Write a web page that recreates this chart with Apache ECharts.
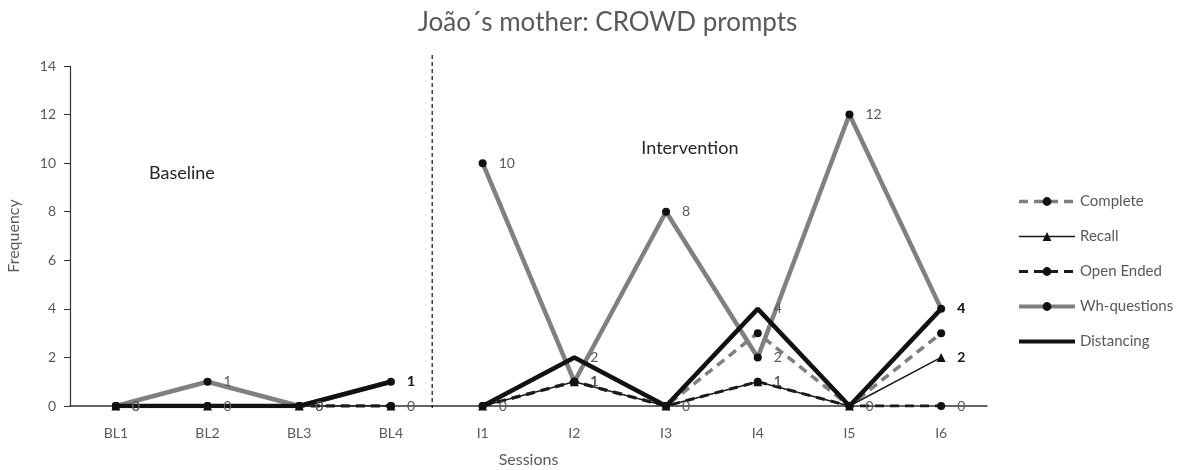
<!DOCTYPE html>
<html>
<head>
<meta charset="utf-8">
<script src="https://cdn.jsdelivr.net/npm/echarts@6/dist/echarts.min.js"></script>
<style>
html,body{margin:0;padding:0;background:#fff;}
#chart{width:1190px;height:470px;}
</style>
</head>
<body>
<div id="chart"></div>
<script>
const categories = ['BL1','BL2','BL3','BL4','I1','I2','I3','I4','I5','I6'];
const baselineCount = 4;
const yTicks = [0,2,4,6,8,10,12,14];
const complete    = [0,0,0,0, 0,1,0,3,0,3];
const recall      = [0,0,0,0, 0,1,0,1,0,2];
const openEnded   = [0,0,0,0, 0,1,0,1,0,0];
const whQuestions = [0,1,0,1, 10,1,8,2,12,4];
const distancing  = [0,0,0,1, 0,2,0,4,0,4];
const phaseTexts = ['Baseline','Intervention'];

const FONT = 'Lato, "Open Sans", sans-serif';
const GRAY_TXT = '#595959';

function phaseData(arr, phase, labelMode) {
  return arr.map((v, i) => {
    const inPhase = phase === 0 ? i < baselineCount : i >= baselineCount;
    if (!inPhase) return null;
    const lastOfPhase = (i === baselineCount - 1) || (i === arr.length - 1);
    let show = false;
    if (labelMode === 'all') show = true;
    else if (labelMode === 'nonzero') show = v !== 0;
    const item = { value: v };
    item.label = { show: show };
    if (show && lastOfPhase && labelMode === 'nonzero') {
      item.label.fontWeight = 'bold';
      item.label.color = '#1a1a1a';
    }
    return item;
  });
}

const seriesDefs = [
  { name: 'Complete', data: complete, color: '#7f7f7f', width: 3.5, type: [9,6], symbol: 'circle', symbolSize: 8, labels: 'none' },
  { name: 'Recall', data: recall, color: '#1a1a1a', width: 1.5, type: 'solid', symbol: 'triangle', symbolSize: 9, labels: 'nonzero' },
  { name: 'Open Ended', data: openEnded, color: '#1a1a1a', width: 3, type: [9,6], symbol: 'circle', symbolSize: 8, labels: 'all' },
  { name: 'Wh-questions', data: whQuestions, color: '#808080', width: 4.5, type: 'solid', symbol: 'circle', symbolSize: 8, labels: 'all' },
  { name: 'Distancing', data: distancing, color: '#111111', width: 4.5, type: 'solid', symbol: 'circle', symbolSize: 1, labels: 'nonzero' }
];

const series = [];
seriesDefs.forEach(d => {
  [0,1].forEach(phase => {
    series.push({
      name: d.name,
      type: 'line',
      data: phaseData(d.data, phase, d.labels),
      symbol: d.symbol,
      symbolSize: d.symbolSize,
      showSymbol: true,
      connectNulls: false,
      color: d.color,
      itemStyle: { color: '#111' },
      lineStyle: { color: d.color, width: d.width, type: d.type },
      label: { position: 'right', distance: 12 + (8 - d.symbolSize) / 2, color: GRAY_TXT, fontSize: 14, fontFamily: FONT },
      animation: false,
      z: 2
    });
  });
});

const chart = echarts.init(document.getElementById('chart'));
chart.setOption({
  backgroundColor: '#fff',
  animation: false,
  title: {
    text: 'João´s mother: CROWD prompts',
    left: 413, top: 5,
    textStyle: { fontFamily: FONT, fontSize: 26, fontWeight: 'normal', color: GRAY_TXT }
  },
  grid: { left: 70, right: 203, top: 66, bottom: 64, outerBoundsMode: 'none', containLabel: false },
  legend: {
    orient: 'vertical',
    left: 1012, top: 189,
    itemWidth: 56, itemHeight: 11, itemGap: 20,
    textStyle: { fontFamily: FONT, fontSize: 15, color: GRAY_TXT },
    data: seriesDefs.map(d => ({
      name: d.name,
      lineStyle: { width: Math.min(d.width, 4), color: d.color, type: d.type },
      itemStyle: d.symbolSize > 1 ? { color: '#111' } : { color: '#111', opacity: 0 }
    }))
  },
  xAxis: {
    type: 'category',
    data: categories,
    boundaryGap: true,
    name: 'Sessions',
    nameLocation: 'middle',
    nameGap: 46,
    nameTextStyle: { fontFamily: FONT, fontSize: 16, color: GRAY_TXT },
    axisLine: { lineStyle: { color: '#333', width: 1.5 } },
    axisTick: { show: false },
    axisLabel: { fontFamily: FONT, fontSize: 14, color: GRAY_TXT, margin: 20 }
  },
  yAxis: {
    type: 'value',
    min: yTicks[0], max: yTicks[yTicks.length - 1], interval: 2,
    name: 'Frequency',
    nameLocation: 'middle',
    nameGap: 48,
    nameTextStyle: { fontFamily: FONT, fontSize: 16, color: GRAY_TXT },
    axisLine: { show: true, lineStyle: { color: '#333', width: 1.2 } },
    axisTick: { show: true, length: 6, lineStyle: { color: '#333' } },
    splitLine: { show: false },
    axisLabel: { fontFamily: FONT, fontSize: 14, color: GRAY_TXT, margin: 14 }
  },
  series: series
});

// phase divider and phase titles via the axis scales
const xBL4 = chart.convertToPixel({ xAxisIndex: 0 }, categories[baselineCount - 1]);
const xI1 = chart.convertToPixel({ xAxisIndex: 0 }, categories[baselineCount]);
const xDiv = xBL4 + 0.45 * (xI1 - xBL4);
const yTop = chart.convertToPixel({ yAxisIndex: 0 }, 14.45);
const y0 = chart.convertToPixel({ yAxisIndex: 0 }, 0);
const xB = chart.convertToPixel({ xAxisIndex: 0 }, categories[0]);
const xB2 = chart.convertToPixel({ xAxisIndex: 0 }, categories[1]);
const xI3 = chart.convertToPixel({ xAxisIndex: 0 }, categories[6]);
const xI4 = chart.convertToPixel({ xAxisIndex: 0 }, categories[7]);
chart.setOption({
  graphic: [
    { type: 'line', shape: { x1: xDiv, y1: yTop, x2: xDiv, y2: y0 + 2 },
      style: { stroke: '#222', lineWidth: 1.3, lineDash: [4, 3] }, z: 1 },
    { type: 'text', x: xB + 0.72 * (xB2 - xB), y: chart.convertToPixel({ yAxisIndex: 0 }, 9.6),
      style: { text: phaseTexts[0], fontFamily: FONT, fontSize: 18, fill: '#262626', align: 'center', verticalAlign: 'middle' } },
    { type: 'text', x: xI3 + 0.26 * (xI4 - xI3), y: chart.convertToPixel({ yAxisIndex: 0 }, 10.6),
      style: { text: phaseTexts[1], fontFamily: FONT, fontSize: 18, fill: '#262626', align: 'center', verticalAlign: 'middle' } }
  ]
});
</script>
</body>
</html>
